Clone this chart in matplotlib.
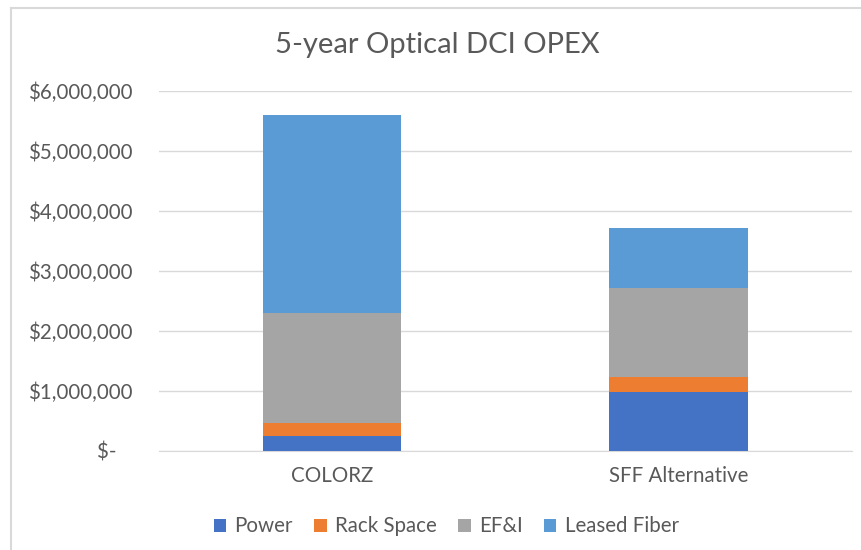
import matplotlib
matplotlib.use("Agg")
import matplotlib.pyplot as plt
import numpy as np
from matplotlib.lines import Line2D

categories = ["COLORZ", "SFF Alternative"]
series_names = ["Power", "Rack Space", "EF&I", "Leased Fiber"]
power = [250000, 985000]
rack_space = [218000, 248000]
efi = [1822000, 1475000]
leased_fiber = [3305000, 1000000]
colors = ["#4472C4", "#ED7D31", "#A5A5A5", "#5B9BD5"]

plt.rcParams["font.family"] = ["Lato", "DejaVu Sans"]
txt = "#595959"

fig = plt.figure(figsize=(8.62, 5.5), dpi=100)
ax = fig.add_axes([0.184, 0.1805, 0.804, 0.6545])

x = np.arange(len(categories))
bottom = np.zeros(len(categories))
for name, vals, c in zip(series_names, [power, rack_space, efi, leased_fiber], colors):
    ax.bar(x, vals, width=0.4, bottom=bottom, color=c, label=name, zorder=3)
    bottom += np.array(vals)

ax.set_xlim(-0.5, 1.5)
ax.set_ylim(0, 6000000)
ax.set_yticks(np.arange(0, 6000001, 1000000))
ax.yaxis.set_major_formatter(plt.FuncFormatter(lambda v, p: "$-   " if v == 0 else "${:,.0f}".format(v)))
ax.set_xticks(x)
ax.set_xticklabels(categories)
ax.grid(axis="y", color="#d9d9d9", linewidth=1, zorder=0)
for s in ax.spines.values():
    s.set_visible(False)
ax.spines["bottom"].set_visible(True)
ax.spines["bottom"].set_color("#d9d9d9")
ax.tick_params(axis="y", length=0, pad=19, labelsize=14.8, labelcolor=txt)
ax.tick_params(axis="x", length=0, pad=11, labelsize=14.8, labelcolor=txt)

fig.text(0.507, 0.918, "5-year Optical DCI OPEX", ha="center", va="center", fontsize=21, color=txt)

ax.legend(loc="center", bbox_to_anchor=(0.415, -0.21), ncol=4, frameon=False,
          fontsize=14.8, labelcolor=txt, handlelength=0.6, handleheight=0.6,
          handletextpad=0.4, columnspacing=1.05)

fig.add_artist(Line2D([11/862, 11/862], [0, 1 - 8/550], color="#d9d9d9", linewidth=1.5))
fig.add_artist(Line2D([11/862, 1], [1 - 8/550, 1 - 8/550], color="#d9d9d9", linewidth=1.5))

plt.savefig("out.png", dpi=100)
